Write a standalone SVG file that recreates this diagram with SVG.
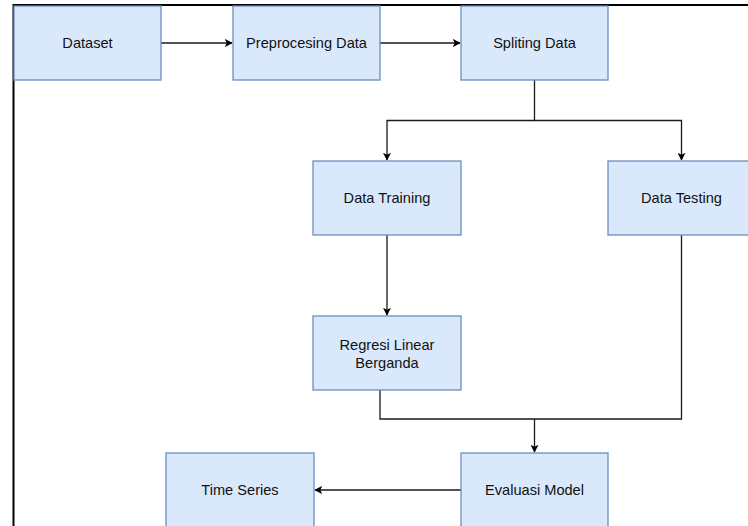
<svg xmlns="http://www.w3.org/2000/svg" width="748" height="526" viewBox="0 0 748 526">
<style>
.box{fill:#dae8fc;stroke:#6c8ebf;stroke-width:1.3}
.lbl{font-family:"Liberation Sans",Arial,sans-serif;font-size:14.6px;fill:#111;text-anchor:middle}
.edge{fill:none;stroke:#1a1a1a;stroke-width:1.3}
</style>
<defs>
<marker id="arr" viewBox="0 0 10 10" refX="9" refY="5" markerWidth="8" markerHeight="8" markerUnits="userSpaceOnUse" orient="auto">
<path d="M0,0 L10,5 L0,10 L2.5,5 Z" fill="#000"/>
</marker>
</defs>
<rect width="748" height="526" fill="#fff"/>
<path d="M13.5,526 L13.5,5 L748,5" fill="none" stroke="#000" stroke-width="2"/>
<g id="connectors">
<path class="edge" d="M161,43 L232,43" marker-end="url(#arr)"/>
<path class="edge" d="M380,43 L460,43" marker-end="url(#arr)"/>
<path class="edge" d="M534.5,80 L534.5,120.5 L387,120.5 L387,160" marker-end="url(#arr)"/>
<path class="edge" d="M534.5,120.5 L681.5,120.5 L681.5,160" marker-end="url(#arr)"/>
<path class="edge" d="M387,235 L387,315" marker-end="url(#arr)"/>
<path class="edge" d="M380,390 L380,419 L681.5,419 L681.5,235"/>
<path class="edge" d="M534.5,419 L534.5,452" marker-end="url(#arr)"/>
<path class="edge" d="M461,490 L315,490" marker-end="url(#arr)"/>
</g>
<g id="dataset"><rect class="box" x="14" y="6" width="147" height="74"/><text class="lbl" x="87.5" y="48">Dataset</text></g>
<g id="preprocessing"><rect class="box" x="233" y="6" width="147" height="74"/><text class="lbl" x="306.5" y="48">Preprocesing Data</text></g>
<g id="splitting"><rect class="box" x="461" y="6" width="147" height="74"/><text class="lbl" x="534.5" y="48">Spliting Data</text></g>
<g id="training"><rect class="box" x="313" y="161" width="148" height="74"/><text class="lbl" x="387" y="203">Data Training</text></g>
<g id="testing"><rect class="box" x="608" y="161" width="147" height="74"/><text class="lbl" x="681.5" y="203">Data Testing</text></g>
<g id="regresi"><rect class="box" x="313" y="316" width="148" height="74"/><text class="lbl" x="387" y="350">Regresi Linear</text><text class="lbl" x="387" y="368">Berganda</text></g>
<g id="timeseries"><rect class="box" x="166" y="453" width="148" height="74"/><text class="lbl" x="240" y="495">Time Series</text></g>
<g id="evaluasi"><rect class="box" x="461" y="453" width="147" height="74"/><text class="lbl" x="534.5" y="495">Evaluasi Model</text></g>
</svg>
